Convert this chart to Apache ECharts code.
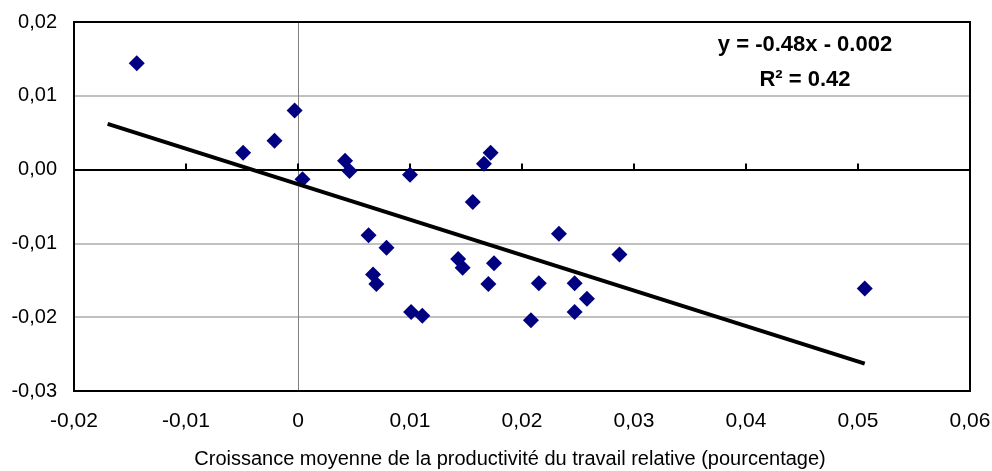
<!DOCTYPE html>
<html>
<head>
<meta charset="utf-8">
<script src="https://cdn.jsdelivr.net/npm/echarts@6/dist/echarts.min.js"></script>
<style>
  html, body { margin: 0; padding: 0; background: #fff; }
  #chart { width: 992px; height: 471px; }
</style>
</head>
<body>
<div id="chart"></div>
<script>
// productivité relative (x) vs. variable relative (y)
const pointsX = [
  -0.0144, -0.0003, -0.0021, -0.0049, 0.0004, 0.0042, 0.0046,
  0.0100, 0.0172, 0.0166, 0.0156, 0.0063, 0.0079, 0.0067, 0.0070,
  0.0101, 0.0111, 0.0143, 0.0147, 0.0175, 0.0170, 0.0233, 0.0215,
  0.0247, 0.0258, 0.0247, 0.0208, 0.0287, 0.0506
];
const pointsY = [
  0.0144, 0.0080, 0.0039, 0.0023, -0.0013, 0.0012, -0.0002,
  -0.0007, 0.0023, 0.0008, -0.0044, -0.0089, -0.0106, -0.0142, -0.0155,
  -0.0193, -0.0198, -0.0121, -0.0133, -0.0127, -0.0155, -0.0087, -0.0154,
  -0.0154, -0.0175, -0.0193, -0.0204, -0.0115, -0.0161
];
// droite de tendance (extrémités)
const trendX = [-0.017, 0.0506];
const trendY = [0.0062, -0.0263];
const equation = 'y = -0.48x - 0.002';
const rSquared = 'R² = 0.42';

const fmt = (v, zeroLabel) => {
  const r = Math.round(v * 100) / 100;
  if (r === 0) return zeroLabel;
  return r.toFixed(2).replace('.', ',');
};

const chart = echarts.init(document.getElementById('chart'));
const font = 'Liberation Sans, Arial, sans-serif';
const G = { left: 74, right: 22, top: 22, bottom: 80 };

chart.setOption({
  animation: false,
  grid: {
    left: G.left, right: G.right, top: G.top, bottom: G.bottom,
    containLabel: false, outerBoundsMode: 'none'
  },
  xAxis: [
    {
      type: 'value', min: -0.02, max: 0.06, interval: 0.01,
      position: 'bottom',
      axisLine: { show: false, onZero: false },
      axisTick: { show: false },
      splitLine: { show: false },
      axisLabel: {
        margin: 20, color: '#000', fontFamily: font, fontSize: 21,
        formatter: v => fmt(v, '0')
      },
      name: 'Croissance moyenne de la productivité du travail relative (pourcentage)',
      nameLocation: 'middle', nameGap: 58,
      nameTextStyle: { color: '#000', fontFamily: font, fontSize: 20, padding: [0, 24, 0, 0] }
    },
    {
      type: 'value', min: -0.02, max: 0.06, interval: 0.01,
      position: 'top',
      axisLine: { show: true, onZero: true, lineStyle: { color: '#000', width: 2 } },
      axisTick: { show: true, inside: false, length: 6, lineStyle: { color: '#000', width: 2 } },
      axisLabel: { show: false },
      splitLine: { show: false }
    }
  ],
  yAxis: [
    {
      type: 'value', min: -0.03, max: 0.02, interval: 0.01,
      axisLine: { show: false, onZero: false },
      axisTick: { show: false },
      splitLine: { show: true, lineStyle: { color: '#c0c0c0', width: 2 } },
      axisLabel: {
        margin: 17, color: '#000', fontFamily: font, fontSize: 20,
        formatter: v => fmt(v, '0,00')
      }
    },
    {
      type: 'value', min: -0.03, max: 0.02, interval: 0.01,
      position: 'right',
      axisLine: { show: true, onZero: true, lineStyle: { color: '#808080', width: 1 } },
      axisTick: { show: false },
      axisLabel: { show: false },
      splitLine: { show: false }
    }
  ],
  series: [
    {
      type: 'scatter',
      xAxisIndex: 0, yAxisIndex: 0,
      symbol: 'diamond', symbolSize: 16,
      itemStyle: { color: '#000080', opacity: 1 },
      data: pointsX.map((x, i) => [x, pointsY[i]]),
      z: 3
    },
    {
      type: 'line',
      xAxisIndex: 0, yAxisIndex: 0,
      symbol: 'none',
      lineStyle: { color: '#000', width: 4 },
      data: trendX.map((x, i) => [x, trendY[i]]),
      z: 4
    }
  ],
  graphic: [
    {
      // cadre de la zone de tracé
      type: 'rect', z: 10, silent: true,
      shape: { x: G.left, y: G.top, width: 992 - G.left - G.right, height: 471 - G.top - G.bottom },
      style: { fill: 'none', stroke: '#000', lineWidth: 2 }
    },
    {
      type: 'text', x: 805, y: 45,
      style: {
        text: equation, align: 'center', verticalAlign: 'middle',
        font: 'bold 22px ' + font, fill: '#000'
      }
    },
    {
      type: 'text', x: 805, y: 80,
      style: {
        text: rSquared, align: 'center', verticalAlign: 'middle',
        font: 'bold 22px ' + font, fill: '#000'
      }
    }
  ]
});
</script>
</body>
</html>
